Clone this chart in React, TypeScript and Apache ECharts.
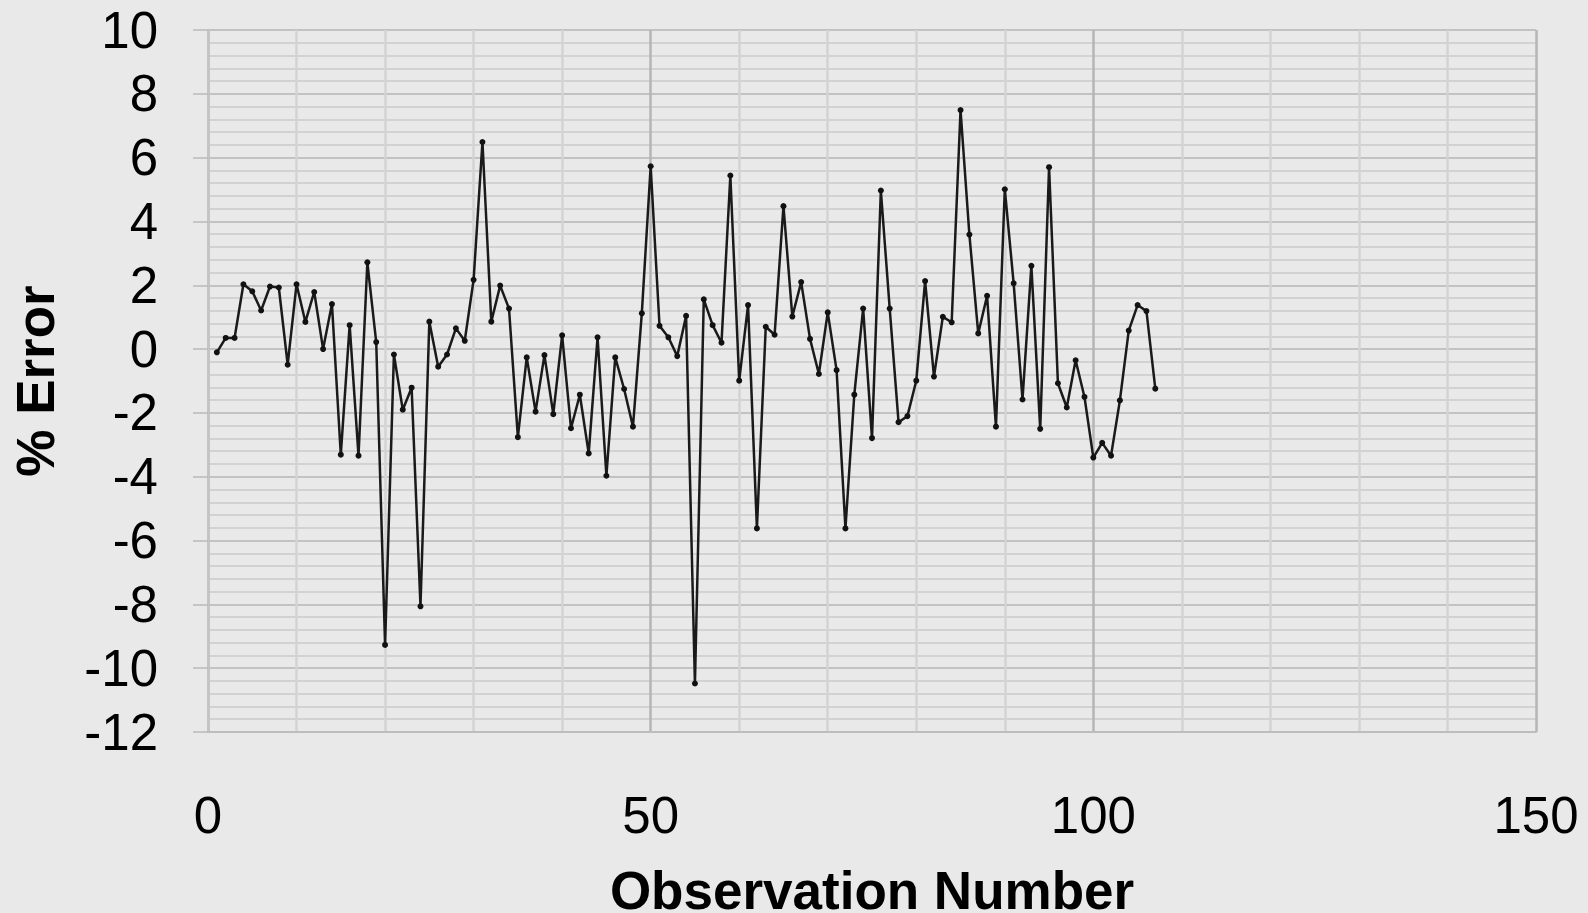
import React, { useEffect, useRef } from "react";
import * as echarts from "echarts";

const observations: number[] = [
  1, 2, 3, 4, 5, 6, 7, 8, 9, 10, 11, 12, 13, 14, 15, 16, 17, 18, 19, 20,
  21, 22, 23, 24, 25, 26, 27, 28, 29, 30, 31, 32, 33, 34, 35, 36, 37, 38, 39, 40,
  41, 42, 43, 44, 45, 46, 47, 48, 49, 50, 51, 52, 53, 54, 55, 56, 57, 58, 59, 60,
  61, 62, 63, 64, 65, 66, 67, 68, 69, 70, 71, 72, 73, 74, 75, 76, 77, 78, 79, 80,
  81, 82, 83, 84, 85, 86, 87, 88, 89, 90, 91, 92, 93, 94, 95, 96, 97, 98, 99, 100,
  101, 102, 103, 104, 105, 106, 107,
];

const percentError: number[] = [
  -0.1, 0.35, 0.35, 2.03, 1.81, 1.21, 1.96, 1.93, -0.49, 2.03,
  0.85, 1.79, 0.0, 1.41, -3.31, 0.75, -3.34, 2.72, 0.22, -9.27,
  -0.17, -1.9, -1.21, -8.06, 0.86, -0.55, -0.17, 0.65, 0.26, 2.17,
  6.49, 0.86, 1.99, 1.27, -2.76, -0.26, -1.96, -0.19, -2.04, 0.43,
  -2.48, -1.43, -3.27, 0.37, -3.97, -0.26, -1.25, -2.43, 1.12, 5.73,
  0.73, 0.37, -0.22, 1.04, -10.48, 1.56, 0.75, 0.2, 5.44, -0.99,
  1.38, -5.62, 0.7, 0.45, 4.48, 1.02, 2.1, 0.32, -0.78, 1.15,
  -0.66, -5.62, -1.43, 1.27, -2.79, 4.97, 1.27, -2.29, -2.1, -0.99,
  2.13, -0.86, 1.01, 0.84, 7.49, 3.59, 0.49, 1.67, -2.43, 5.01,
  2.06, -1.58, 2.61, -2.5, 5.7, -1.07, -1.83, -0.35, -1.5, -3.4,
  -2.94, -3.34, -1.61, 0.58, 1.38, 1.19, -1.24,
];

const xAxisTitle = "Observation Number";
const yAxisTitle = "% Error";

const FONT = "'Liberation Sans', Arial, Helvetica, sans-serif";

export default function App() {
  const ref = useRef<HTMLDivElement>(null);

  useEffect(() => {
    if (!ref.current) return;
    const chart = echarts.init(ref.current, null, { renderer: "svg" });
    const data = observations.map((o, i) => [o, percentError[i]]);
    chart.setOption({
      animation: false,
      backgroundColor: "#e9e9e9",
      grid: {
        left: 208,
        right: 52,
        top: 30,
        bottom: 181,
        containLabel: false,
        outerBoundsMode: "none",
      },
      xAxis: {
        type: "value",
        min: 0,
        max: 150,
        interval: 50,
        name: xAxisTitle,
        nameLocation: "middle",
        nameGap: 132,
        nameTextStyle: { fontFamily: FONT, fontSize: 53, fontWeight: "bold", color: "#000" },
        axisLine: { show: true, onZero: false, lineStyle: { color: "#bdbdbd", width: 2 } },
        axisTick: { show: false },
        axisLabel: { margin: 58, fontFamily: FONT, fontSize: 51, color: "#000" },
        splitLine: { show: true, lineStyle: { color: "#b5b5b5", width: 2.5 } },
        minorTick: { show: false, splitNumber: 5 },
        minorSplitLine: { show: true, lineStyle: { color: "#d3d3d3", width: 2.5 } },
      },
      yAxis: {
        type: "value",
        min: -12,
        max: 10,
        interval: 2,
        name: yAxisTitle,
        nameLocation: "middle",
        nameGap: 146,
        nameTextStyle: { fontFamily: FONT, fontSize: 53, fontWeight: "bold", color: "#000" },
        axisLine: { show: true, onZero: false, lineStyle: { color: "#c4c4c4", width: 2.5 } },
        axisTick: { show: true, length: 15, lineStyle: { color: "#b9b9b9", width: 1.5 } },
        axisLabel: { margin: 50, fontFamily: FONT, fontSize: 51, color: "#000" },
        splitLine: { show: true, lineStyle: { color: "#b5b5b5", width: 1.5 } },
        minorTick: { show: false, splitNumber: 5 },
        minorSplitLine: { show: true, lineStyle: { color: "#d2d2d2", width: 2 } },
      },
      series: [
        {
          type: "line",
          data,
          showSymbol: true,
          symbol: "circle",
          symbolSize: 6,
          itemStyle: { color: "#111" },
          lineStyle: { color: "#1a1a1a", width: 2.5 },
          z: 5,
        },
      ],
    });
    return () => chart.dispose();
  }, []);

  return (
    <div
      ref={ref}
      style={{ position: "fixed", left: 0, top: 0, width: 1588, height: 913 }}
    />
  );
}
